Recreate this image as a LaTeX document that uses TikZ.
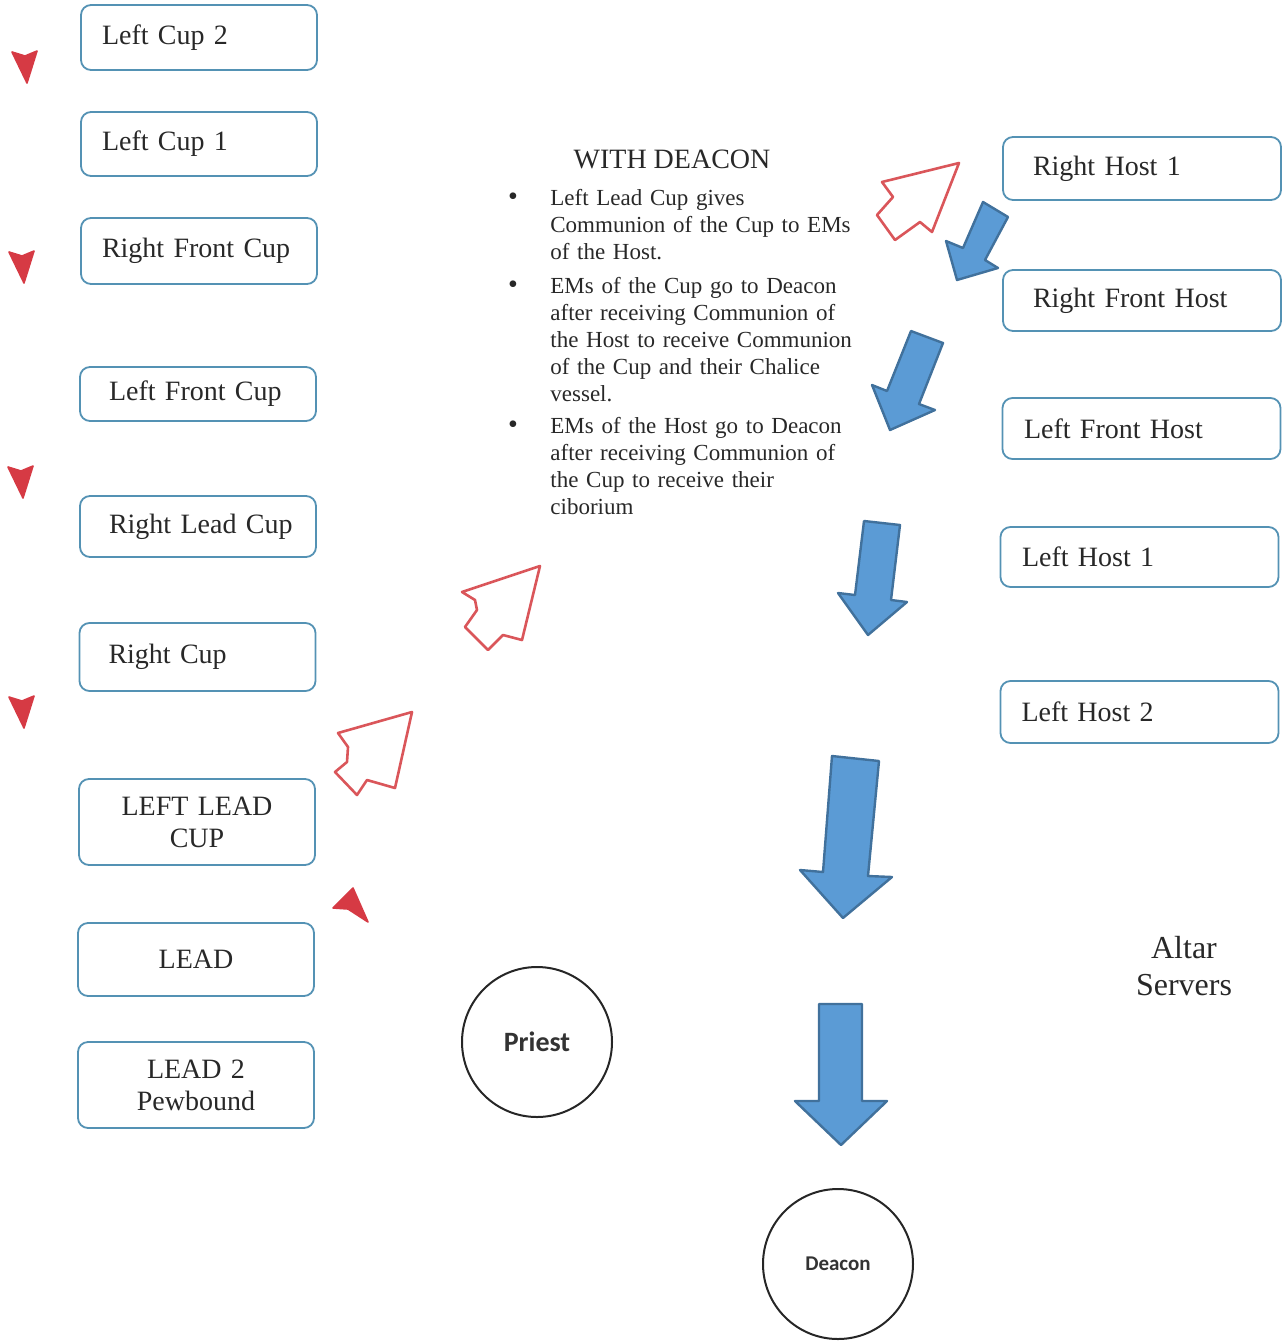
\documentclass[tikz,border=0pt]{standalone}
\usepackage{fontspec}
\setmainfont{Liberation Serif}
\newfontfamily\calibri{Carlito}
\usepackage{xcolor}
\definecolor{boxblue}{RGB}{84,146,180}
\definecolor{txtgray}{RGB}{40,40,40}
\definecolor{arrowblue}{RGB}{91,155,213}
\definecolor{arrowedge}{RGB}{65,113,156}
\definecolor{penred}{RGB}{218,86,90}
\definecolor{markred}{RGB}{214,58,68}

\begin{document}
\begin{tikzpicture}[x=0.5pt,y=0.5pt,yscale=-1,
  box/.style={draw=boxblue, line width=0.9pt, rounded corners=5pt, minimum width=118pt, minimum height=#1, text width=97pt, align=left, inner sep=0pt, text=txtgray, font=\fontsize{14}{16}\selectfont},
  hostbox/.style={box=#1, minimum width=139pt},
  person/.style={draw=black!85, line width=1pt, circle, minimum size=75pt, inner sep=0pt, text=black!80},
  blockarrow/.style={fill=arrowblue, draw=arrowedge, line width=1.2pt, line join=round},
  penarrow/.style={draw=penred, line width=1.3pt, line join=round},
  penmark/.style={fill=markred, draw=markred, line width=0.8pt, line join=round},
  item/.style={anchor=base west, text width=160pt, align=left, inner sep=0pt, text=txtgray, font=\fontsize{11.5}{13.5}\selectfont}]
  \useasboundingbox (0,0) rectangle (1283,1344);

  % Cup boxes (left column)
  \node[box=32.5pt] (lcup2) at (199,37.5) {Left Cup 2};
  \node[box=32pt] (lcup1) at (199,144) {Left Cup 1};
  \node[box=33pt] (rfcup) at (199,251) {Right Front Cup};
  \node[box=27pt, text width=89pt] (lfcup) at (198,394) {Left Front Cup};
  \node[box=30.5pt, text width=89pt] (rlcup) at (198,526.5) {\mbox{Right Lead Cup}};
  \node[box=34pt, text width=89pt] (rcup) at (197.5,657) {Right Cup};
  \node[box=43pt, align=center] (llcup) at (197,822) {LEFT LEAD\\CUP};
  \node[box=36.5pt, align=center] (lead) at (196,959.5) {LEAD};
  \node[box=43pt, align=center] (lead2) at (196,1085) {LEAD 2\\Pewbound};

  % Host boxes (right column)
  \node[hostbox=31.5pt, text width=109pt] (rhost1) at (1142,168.5) {Right Host 1};
  \node[hostbox=30.5pt, text width=109pt] (rfhost) at (1142,300.5) {Right Front Host};
  \node[hostbox=30.5pt, text width=117.5pt] (lfhost) at (1141.5,428.5) {Left Front Host};
  \node[hostbox=30pt, text width=117.5pt] (lhost1) at (1139.5,557) {Left Host 1};
  \node[hostbox=31pt, text width=118pt] (lhost2) at (1139.5,712) {Left Host 2};

  % Text Node
  \node[text=txtgray, font=\fontsize{14}{16}\selectfont, anchor=base] (title) at (672,168) {WITH DEACON};
  % Text Node
  \node[item] (item1) at (550,205) {Left Lead Cup gives\\Communion of the Cup to EMs\\of the Host.};
  \node[item] (item2) at (550,293) {EMs of the Cup go to Deacon\\after receiving Communion of\\the Host to receive Communion\\of the Cup and their Chalice\\vessel.};
  \node[item] (item3) at (550,433) {EMs of the Host go to Deacon\\after receiving Communion of\\the Cup to receive their\\ciborium};
  \foreach \y in {205,293,433}
    \node[text=txtgray, font=\fontsize{14}{14}\selectfont, anchor=base] at (513,\y) {\textbullet};

  % Text Node
  \node[text=txtgray, align=center, font=\fontsize{16}{18.5}\selectfont] (altar) at (1184,966) {Altar\\Servers};

  % Circles
  \node[person, font=\calibri\bfseries\fontsize{14}{16}\selectfont] (priest) at (537,1042) {Priest};
  \node[person, font=\calibri\bfseries\fontsize{10.5}{12}\selectfont] (deacon) at (838,1264) {Deacon};

  %Shape: Down Arrow
  \draw[blockarrow] (983,202) -- (1008,217) -- (985,260) -- (998,268) -- (957,280) -- (946,241) -- (963,248) -- cycle;
  \draw[blockarrow] (911,331) -- (943,343) -- (919,404) -- (935,410) -- (890,430) -- (872,385) -- (887,391) -- cycle;
  \draw[blockarrow] (864,521) -- (900,525) -- (891,600) -- (907,602) -- (868,635) -- (838,593) -- (855,595) -- cycle;
  \draw[blockarrow] (832,756) -- (879,761) -- (868,876) -- (892,877) -- (843,918) -- (800,870) -- (823,872) -- cycle;
  \draw[blockarrow] (819,1004) -- (862,1004) -- (862,1101) -- (887,1101) -- (841,1145) -- (795,1101) -- (819,1101) -- cycle;

  %Shape: Up Arrow (pen)
  \draw[penarrow] (959,163) -- (882,182) -- (893,197) -- (877,215) -- (895,240) -- (920,222) -- (932,232) -- cycle;
  \draw[penarrow] (540,566) -- (462,592) -- (475,600) -- (477,610) -- (465,627) -- (488,650) -- (503,635) -- (522,640) -- cycle;
  \draw[penarrow] (412,712) -- (338,733) -- (348,747) -- (347,762) -- (335,772) -- (357,795) -- (367,780) -- (395,788) -- cycle;

  %Shape: pen marks
  \foreach \x/\y in {25/66, 22/266, 21/481, 22/711}
    \filldraw[penmark, shift={(\x,\y)}] (-13,-14) -- (0,-10) -- (12,-15) -- (2,17) -- cycle;
  \filldraw[penmark] (353,888) -- (333,908) -- (348,909) -- (368,922) -- cycle;
\end{tikzpicture}
\end{document}
